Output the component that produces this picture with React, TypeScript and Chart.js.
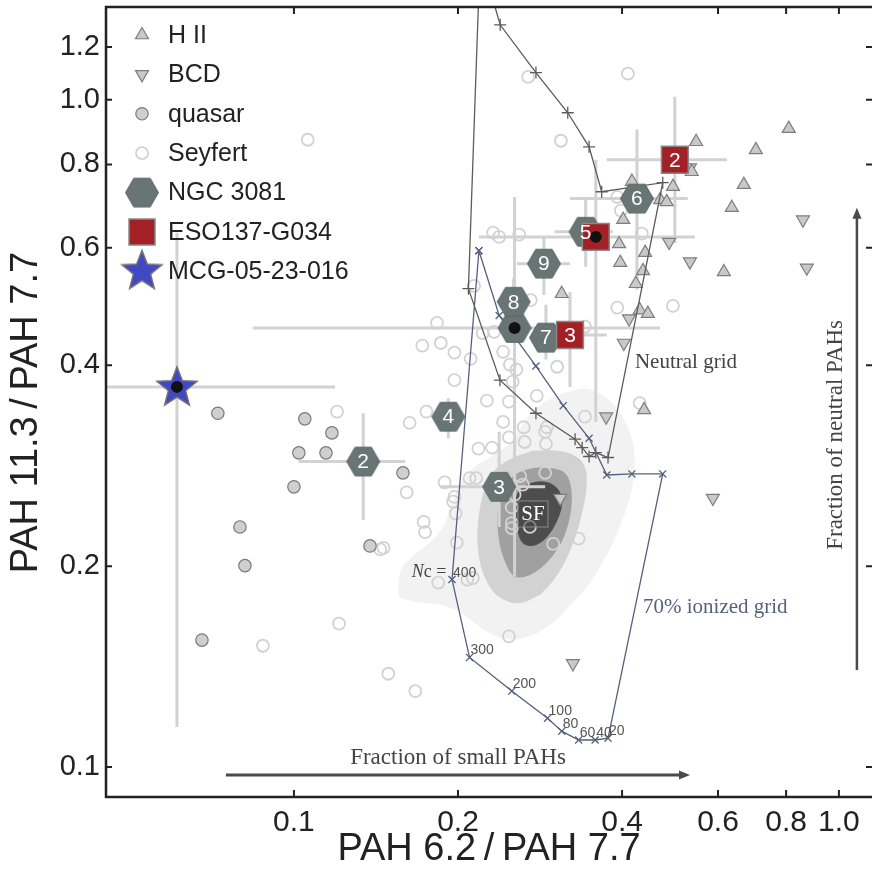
import React, { useEffect, useRef } from 'react';
import { Chart, registerables } from 'chart.js';

Chart.register(...registerables);

const FONT_SANS = "'Liberation Sans', Arial, Helvetica, sans-serif";
const FONT_SERIF = "'Liberation Serif', 'Times New Roman', serif";

// ---------- axes ----------
const xRange = [0.0452, 1.15];
const yRange = [0.0902, 1.377];
const xTickValues = [0.1, 0.2, 0.4, 0.6, 0.8, 1.0];
const xTickLabels = ['0.1', '0.2', '0.4', '0.6', '0.8', '1.0'];
const yTickValues = [0.1, 0.2, 0.4, 0.6, 0.8, 1.0, 1.2];
const yTickLabels = ['0.1', '0.2', '0.4', '0.6', '0.8', '1.0', '1.2'];
const xTitle = 'PAH 6.2\u2009/\u2009PAH 7.7';
const yTitle = 'PAH 11.3\u2009/\u2009PAH 7.7  ';

// ---------- comparison samples ----------
const hiiPoints = [
  [0.547, 0.865], [0.704, 0.841], [0.809, 0.905], [0.669, 0.746], [0.636, 0.689],
  [0.417, 0.754], [0.496, 0.741], [0.470, 0.708], [0.483, 0.703], [0.402, 0.661],
  [0.395, 0.608], [0.441, 0.590], [0.397, 0.570], [0.615, 0.552], [0.437, 0.554],
  [0.424, 0.530], [0.431, 0.484], [0.446, 0.478], [0.310, 0.512], [0.439, 0.343],
  [0.537, 0.780],
];
const bcdPoints = [
  [0.859, 0.661], [0.873, 0.560], [0.533, 0.572], [0.488, 0.612], [0.412, 0.470],
  [0.403, 0.432], [0.533, 0.791], [0.374, 0.335], [0.308, 0.253], [0.325, 0.143],
  [0.587, 0.253],
];
const quasarPoints = [
  [0.0725, 0.339], [0.1047, 0.3325], [0.1174, 0.3168], [0.1021, 0.2957], [0.1145, 0.2957],
  [0.1, 0.263], [0.0796, 0.229], [0.0813, 0.2004], [0.1379, 0.2145], [0.1585, 0.276],
  [0.0678, 0.155],
];
const seyfertPoints = [
  [0.106, 0.871], [0.41, 1.094], [0.269, 1.082], [0.309, 0.868], [0.392, 0.715],
  [0.398, 0.682], [0.232, 0.632], [0.238, 0.623], [0.259, 0.628], [0.435, 0.630],
  [0.214, 0.526], [0.272, 0.501], [0.392, 0.488], [0.496, 0.491], [0.183, 0.463],
  [0.233, 0.449], [0.222, 0.447], [0.342, 0.457], [0.172, 0.428], [0.186, 0.432],
  [0.197, 0.418], [0.211, 0.409], [0.242, 0.419], [0.249, 0.401], [0.256, 0.394],
  [0.252, 0.378], [0.304, 0.398], [0.197, 0.380], [0.226, 0.354], [0.248, 0.353],
  [0.279, 0.360], [0.175, 0.341], [0.163, 0.328], [0.242, 0.329], [0.264, 0.323],
  [0.291, 0.323], [0.342, 0.335], [0.248, 0.312], [0.289, 0.318], [0.431, 0.351],
  [0.218, 0.300], [0.231, 0.301], [0.265, 0.307], [0.290, 0.305], [0.275, 0.291],
  [0.280, 0.291], [0.314, 0.286], [0.289, 0.276], [0.260, 0.273], [0.210, 0.271],
  [0.216, 0.271], [0.189, 0.267], [0.263, 0.265], [0.254, 0.256], [0.197, 0.254],
  [0.196, 0.250], [0.198, 0.240], [0.251, 0.245], [0.226, 0.240], [0.224, 0.232],
  [0.251, 0.232], [0.251, 0.228], [0.271, 0.229], [0.173, 0.233], [0.174, 0.225],
  [0.199, 0.217], [0.333, 0.220], [0.299, 0.216], [0.161, 0.258], [0.146, 0.213],
  [0.241, 0.195], [0.279, 0.185], [0.184, 0.189], [0.208, 0.191], [0.213, 0.192],
  [0.248, 0.157], [0.149, 0.138], [0.167, 0.130], [0.121, 0.164], [0.0877, 0.152],
  [0.120, 0.341], [0.144, 0.212],
];

// ---------- targets ----------
const ngcPoints = [
  [0.254, 0.455], [0.134, 0.287], [0.238, 0.263], [0.192, 0.335], [0.343, 0.634],
  [0.426, 0.711], [0.290, 0.440], [0.253, 0.498], [0.2875, 0.568],
];
const ngcLabels = ['', '2', '3', '4', '5', '6', '7', '8', '9'];
const ngcXErr = [
  [0.0841, 0.4695], [0.102, 0.160], [0.1853, 0.289], [0.18, 0.205], [0.301, 0.385],
  [0.321, 0.528], [0.276, 0.305], [0.236, 0.270], [0.2566, 0.321],
];
const ngcYErr = [
  [0.193, 0.715], [0.2345, 0.339], [0.229, 0.318], [0.311, 0.357], [0.562, 0.708],
  [0.519, 0.902], [0.408, 0.493], [0.46, 0.54], [0.510, 0.621],
];

const esoPoints = [[0.500, 0.813], [0.358, 0.623], [0.321, 0.444]];
const esoLabels = ['2', '', '3'];
const esoXErr = [[0.375, 0.623], [0.2185, 0.544], [0.289, 0.375]];
const esoYErr = [[0.610, 1.01], [0.329, 0.813], [0.371, 0.515]];

const mcgPoints = [[0.061, 0.3713]];
const mcgXErr = [[0.03, 0.119]];
const mcgYErr = [[0.1148, 0.632]];

const nucleusPoints = [[0.254, 0.455], [0.358, 0.623], [0.061, 0.3713]];

// ---------- model grids ----------
const neutralGrid = [
  [0.229, 1.462], [0.239, 1.295], [0.278, 1.098], [0.318, 0.956], [0.348, 0.850],
  [0.367, 0.728], [0.475, 0.751], [0.377, 0.291], [0.358, 0.296], [0.348, 0.292],
  [0.338, 0.301], [0.328, 0.310], [0.278, 0.339], [0.2388, 0.380], [0.209, 0.521],
  [0.2185, 1.462],
];
const ionizedGrid = [
  [0.2185, 0.594], [0.238, 0.475], [0.278, 0.399], [0.312, 0.348], [0.348, 0.311],
  [0.375, 0.274], [0.417, 0.275], [0.475, 0.275], [0.377, 0.1105], [0.357, 0.1098],
  [0.333, 0.1098], [0.310, 0.1132], [0.292, 0.1184], [0.251, 0.130], [0.210, 0.146],
  [0.195, 0.191], [0.2185, 0.594],
];
const ionizedLabels = ['', '', '', '', '', '', '', '', '20', '40', '60', '80', '100', '200', '300', '400', ''];

// ---------- star-forming density contours ----------
const contourOuter = [
  [0.155, 0.182], [0.1565, 0.1994], [0.168, 0.2093], [0.183, 0.2212], [0.191, 0.2346],
  [0.199, 0.2602], [0.210, 0.2788], [0.229, 0.2916], [0.252, 0.306], [0.263, 0.328],
  [0.279, 0.3465], [0.299, 0.3587], [0.325, 0.3675], [0.345, 0.370], [0.364, 0.3637],
  [0.385, 0.3513], [0.405, 0.3313], [0.422, 0.304], [0.422, 0.2693], [0.405, 0.2387],
  [0.380, 0.2115], [0.349, 0.1875], [0.324, 0.1762], [0.308, 0.168], [0.291, 0.1616],
  [0.271, 0.1566], [0.252, 0.155], [0.239, 0.1561], [0.222, 0.1605], [0.208, 0.168],
  [0.191, 0.175], [0.170, 0.1762], [0.1565, 0.1792],
];
const contourMid = [
  [0.2194, 0.2454], [0.2167, 0.2266], [0.2176, 0.2078], [0.2223, 0.194], [0.2318, 0.1823],
  [0.2459, 0.1767], [0.2598, 0.1756], [0.2768, 0.1792], [0.2924, 0.1855], [0.3116, 0.1994],
  [0.3278, 0.2189], [0.3376, 0.2387], [0.3448, 0.2602], [0.3448, 0.2788], [0.3348, 0.2906],
  [0.3142, 0.2977], [0.2887, 0.2987], [0.2676, 0.2967], [0.2459, 0.2886], [0.2308, 0.2769],
  [0.2232, 0.262],
];
const contourInner = [
  [0.2368, 0.2454], [0.2358, 0.2305], [0.2388, 0.2129], [0.2449, 0.2008], [0.2522, 0.1927],
  [0.2631, 0.192], [0.2791, 0.196], [0.2987, 0.2064], [0.3142, 0.2212], [0.3236, 0.2428],
  [0.3236, 0.262], [0.3169, 0.2759], [0.3012, 0.2807], [0.2768, 0.2817], [0.2544, 0.2759],
  [0.2429, 0.2629],
];
const contourCore = [
  [0.2566, 0.2584], [0.2653, 0.2647], [0.2791, 0.2684], [0.2949, 0.2675], [0.3077, 0.2602],
  [0.3116, 0.2488], [0.3077, 0.2387], [0.2987, 0.2266], [0.2863, 0.2174], [0.2733, 0.2137],
  [0.262, 0.2159], [0.2566, 0.225], [0.2544, 0.2387], [0.2544, 0.2496],
];
const contourLevels = [contourOuter, contourMid, contourInner, contourCore];
const contourColors = ['#f2f2f2', '#d2d2d2', '#a0a0a0', '#4d4d4d'];

// ---------- annotations (data coordinates) ----------
const neutralLabelAt = [0.4224, 0.3964];
const ionizedLabelAt = [0.437, 0.170];
const smallArrow = [[0.075, 0.0973], [0.533, 0.0973]];
const smallTextAt = [0.2, 0.101];
const neutralArrow = [[1.079, 0.1398], [1.079, 0.689]];
const neutralTextAt = [0.987, 0.3146];
const sfAt = [0.2745, 0.2395];

const legendLabels = ['H II', 'BCD', 'quasar', 'Seyfert', 'NGC 3081', 'ESO137-G034', 'MCG-05-23-016'];

// ---------- colours ----------
const HEX_FILL = '#687574';
const HEX_EDGE = '#5a6665';
const ESO_FILL = '#a32126';
const STAR_FILL = '#4048c4';
const TRI_FILL = '#c9c9c9';
const TRI_EDGE = '#7e7e7e';
const ERR_COLOR = '#d2d2d2';

const toXY = (arr: number[][]) => arr.map((p) => ({ x: p[0], y: p[1] }));

function hexPath(ctx: CanvasRenderingContext2D, cx: number, cy: number, r: number) {
  ctx.beginPath();
  for (let k = 0; k < 6; k++) {
    const a = (Math.PI / 3) * k;
    const px = cx + r * Math.cos(a);
    const py = cy + r * Math.sin(a);
    if (k === 0) ctx.moveTo(px, py);
    else ctx.lineTo(px, py);
  }
  ctx.closePath();
}

function starPath(ctx: CanvasRenderingContext2D, cx: number, cy: number, R: number, r: number) {
  ctx.beginPath();
  for (let k = 0; k < 10; k++) {
    const a = -Math.PI / 2 + (k * Math.PI) / 5;
    const rad = k % 2 === 0 ? R : r;
    const px = cx + rad * Math.cos(a);
    const py = cy + rad * Math.sin(a);
    if (k === 0) ctx.moveTo(px, py);
    else ctx.lineTo(px, py);
  }
  ctx.closePath();
}

function makeImg(w: number, h: number, draw: (c: CanvasRenderingContext2D) => void) {
  const c = document.createElement('canvas');
  c.width = w;
  c.height = h;
  const g = c.getContext('2d');
  if (g) draw(g);
  return c;
}

function trianglePath(ctx: CanvasRenderingContext2D, x: number, y: number, r: number, down: boolean) {
  ctx.beginPath();
  for (let k = 0; k < 3; k++) {
    const a = (down ? Math.PI : 0) + (k * 2 * Math.PI) / 3;
    const px = x + Math.sin(a) * r;
    const py = y - Math.cos(a) * r;
    if (k === 0) ctx.moveTo(px, py);
    else ctx.lineTo(px, py);
  }
  ctx.closePath();
}

function arrow(ctx: CanvasRenderingContext2D, x0: number, y0: number, x1: number, y1: number) {
  const ang = Math.atan2(y1 - y0, x1 - x0);
  const head = 11;
  const hw = 4.5;
  ctx.beginPath();
  ctx.moveTo(x0, y0);
  ctx.lineTo(x1 - Math.cos(ang) * head * 0.8, y1 - Math.sin(ang) * head * 0.8);
  ctx.stroke();
  ctx.beginPath();
  ctx.moveTo(x1, y1);
  ctx.lineTo(x1 - Math.cos(ang) * head - Math.sin(ang) * hw, y1 - Math.sin(ang) * head + Math.cos(ang) * hw);
  ctx.lineTo(x1 - Math.cos(ang) * head + Math.sin(ang) * hw, y1 - Math.sin(ang) * head - Math.cos(ang) * hw);
  ctx.closePath();
  ctx.fill();
}

const zeroPadding = (s: any) => {
  s.paddingTop = 0;
  s.paddingBottom = 0;
  s.paddingLeft = 0;
  s.paddingRight = 0;
};

export default function App() {
  const ref = useRef<HTMLCanvasElement | null>(null);

  useEffect(() => {
    const canvas = ref.current;
    if (!canvas) return;

    const hexImg = makeImg(36, 32, (g) => {
      hexPath(g, 18, 16, 16.5);
      g.fillStyle = HEX_FILL;
      g.fill();
      g.strokeStyle = HEX_EDGE;
      g.lineWidth = 1;
      g.stroke();
    });
    const starImg = makeImg(48, 46, (g) => {
      starPath(g, 24, 24, 21, 9);
      g.fillStyle = STAR_FILL;
      g.fill();
      g.strokeStyle = '#707070';
      g.lineWidth = 1.5;
      g.stroke();
    });

    const overlay = {
      id: 'overlay',
      beforeDatasetsDraw(chart: any) {
        const { ctx, chartArea: a } = chart;
        const sx = chart.scales.x;
        const sy = chart.scales.y;
        const P = (p: number[]) => [sx.getPixelForValue(p[0]), sy.getPixelForValue(p[1])];
        ctx.save();
        ctx.beginPath();
        ctx.rect(a.left, a.top, a.right - a.left, a.bottom - a.top);
        ctx.clip();
        contourLevels.forEach((lvl, i) => {
          const pts = lvl.map(P);
          const n = pts.length;
          const mid = (p: number[], q: number[]) => [(p[0] + q[0]) / 2, (p[1] + q[1]) / 2];
          const m0 = mid(pts[n - 1], pts[0]);
          ctx.beginPath();
          ctx.moveTo(m0[0], m0[1]);
          for (let k = 0; k < n; k++) {
            const p = pts[k];
            const mm = mid(p, pts[(k + 1) % n]);
            ctx.quadraticCurveTo(p[0], p[1], mm[0], mm[1]);
          }
          ctx.closePath();
          ctx.fillStyle = contourColors[i];
          ctx.fill();
        });
        ctx.strokeStyle = ERR_COLOR;
        ctx.lineWidth = 3;
        const bars = (pts: number[][], xe: number[][], ye: number[][]) => {
          pts.forEach((p, k) => {
            const [px, py] = P(p);
            const x0 = sx.getPixelForValue(xe[k][0]);
            const x1 = sx.getPixelForValue(xe[k][1]);
            const y0 = sy.getPixelForValue(ye[k][0]);
            const y1 = sy.getPixelForValue(ye[k][1]);
            ctx.beginPath();
            ctx.moveTo(x0, py);
            ctx.lineTo(x1, py);
            ctx.moveTo(px, y0);
            ctx.lineTo(px, y1);
            ctx.stroke();
          });
        };
        bars(ngcPoints, ngcXErr, ngcYErr);
        bars(esoPoints, esoXErr, esoYErr);
        bars(mcgPoints, mcgXErr, mcgYErr);
        ctx.restore();
      },
      afterDatasetsDraw(chart: any) {
        const { ctx, chartArea: a } = chart;
        const sx = chart.scales.x;
        const sy = chart.scales.y;
        const P = (p: number[]) => [sx.getPixelForValue(p[0]), sy.getPixelForValue(p[1])];
        ctx.save();
        ctx.beginPath();
        ctx.rect(a.left, a.top, a.right - a.left, a.bottom - a.top);
        ctx.clip();

        // SF box
        const [sfx, sfy] = P(sfAt);
        ctx.fillStyle = 'rgba(70,70,70,0.55)';
        ctx.fillRect(sfx - 15, sfy - 13, 30, 26);
        ctx.strokeStyle = '#8a8a8a';
        ctx.lineWidth = 1;
        ctx.strokeRect(sfx - 15, sfy - 13, 30, 26);
        ctx.fillStyle = '#ffffff';
        ctx.font = `21px ${FONT_SERIF}`;
        ctx.textAlign = 'center';
        ctx.textBaseline = 'middle';
        ctx.fillText('SF', sfx, sfy + 1);

        // ionized grid labels
        ctx.font = `14px ${FONT_SANS}`;
        ctx.fillStyle = '#555555';
        ctx.textAlign = 'left';
        ctx.textBaseline = 'alphabetic';
        ionizedGrid.forEach((p, k) => {
          const t = ionizedLabels[k];
          if (!t) return;
          const [px, py] = P(p);
          ctx.fillText(t, px + 1, py - 3);
          if (t === '400') {
            ctx.font = `18px ${FONT_SERIF}`;
            ctx.textAlign = 'right';
            ctx.fillStyle = '#444444';
            const rest = 'c = ';
            ctx.fillText(rest, px - 1, py - 3);
            const w = ctx.measureText(rest).width;
            ctx.font = `italic 18px ${FONT_SERIF}`;
            ctx.fillText('N', px - 1 - w, py - 3);
            ctx.font = `14px ${FONT_SANS}`;
            ctx.textAlign = 'left';
            ctx.fillStyle = '#555555';
          }
        });

        // grid names
        ctx.font = `21px ${FONT_SERIF}`;
        ctx.textAlign = 'left';
        ctx.textBaseline = 'alphabetic';
        ctx.fillStyle = '#444444';
        let q = P(neutralLabelAt);
        ctx.fillText('Neutral grid', q[0], q[1]);
        ctx.fillStyle = '#56607e';
        q = P(ionizedLabelAt);
        ctx.fillText('70% ionized grid', q[0], q[1]);

        // arrows + captions
        ctx.strokeStyle = '#4a4a4a';
        ctx.fillStyle = '#4a4a4a';
        ctx.lineWidth = 3;
        let p0 = P(smallArrow[0]);
        let p1 = P(smallArrow[1]);
        arrow(ctx, p0[0], p0[1], p1[0], p1[1]);
        ctx.lineWidth = 2.5;
        p0 = P(neutralArrow[0]);
        p1 = P(neutralArrow[1]);
        arrow(ctx, p0[0], p0[1], p1[0], p1[1]);
        ctx.fillStyle = '#444444';
        ctx.font = `23px ${FONT_SERIF}`;
        ctx.textAlign = 'center';
        q = P(smallTextAt);
        ctx.fillText('Fraction of small PAHs', q[0], q[1]);
        q = P(neutralTextAt);
        ctx.save();
        ctx.translate(q[0], q[1]);
        ctx.rotate(-Math.PI / 2);
        ctx.textBaseline = 'middle';
        ctx.fillText('Fraction of neutral PAHs', 0, 0);
        ctx.restore();

        // numbers on markers
        ctx.fillStyle = '#ffffff';
        ctx.font = `21px ${FONT_SANS}`;
        ctx.textAlign = 'center';
        ctx.textBaseline = 'middle';
        ngcPoints.forEach((p, k) => {
          if (!ngcLabels[k]) return;
          const [px, py] = P(p);
          ctx.fillText(ngcLabels[k], px, py + 1);
        });
        esoPoints.forEach((p, k) => {
          if (!esoLabels[k]) return;
          const [px, py] = P(p);
          ctx.fillText(esoLabels[k], px, py + 1);
        });
        ctx.restore();

        // legend
        ctx.save();
        legendLabels.forEach((label, i) => {
          const y = 35 + i * 39.4;
          const x = 142;
          if (i === 0 || i === 1) {
            trianglePath(ctx, x, y, 7.5, i === 1);
            ctx.fillStyle = TRI_FILL;
            ctx.fill();
            ctx.strokeStyle = TRI_EDGE;
            ctx.lineWidth = 1.2;
            ctx.stroke();
          } else if (i === 2) {
            ctx.beginPath();
            ctx.arc(x, y, 6.2, 0, Math.PI * 2);
            ctx.fillStyle = '#cfcfcf';
            ctx.fill();
            ctx.strokeStyle = '#7a7a7a';
            ctx.lineWidth = 1.2;
            ctx.stroke();
          } else if (i === 3) {
            ctx.beginPath();
            ctx.arc(x, y, 6, 0, Math.PI * 2);
            ctx.strokeStyle = '#d2d2d2';
            ctx.lineWidth = 1.8;
            ctx.stroke();
          } else if (i === 4) {
            ctx.drawImage(hexImg, x - 18, y - 16);
          } else if (i === 5) {
            ctx.fillStyle = ESO_FILL;
            ctx.fillRect(x - 13, y - 13, 26, 26);
            ctx.strokeStyle = '#888888';
            ctx.lineWidth = 1.5;
            ctx.strokeRect(x - 13, y - 13, 26, 26);
          } else {
            ctx.drawImage(starImg, x - 24, y - 24);
          }
          ctx.fillStyle = '#222222';
          ctx.font = `25px ${FONT_SANS}`;
          ctx.textAlign = 'left';
          ctx.textBaseline = 'middle';
          ctx.fillText(label, 168, y + 1);
        });
        ctx.restore();
      },
      afterDraw(chart: any) {
        const { ctx, chartArea: a } = chart;
        const sx = chart.scales.x;
        const sy = chart.scales.y;
        ctx.save();
        ctx.strokeStyle = '#222222';
        ctx.lineWidth = 2.5;
        ctx.beginPath();
        ctx.moveTo(a.right + 2, a.top);
        ctx.lineTo(a.left, a.top);
        ctx.lineTo(a.left, a.bottom);
        ctx.lineTo(a.right + 2, a.bottom);
        ctx.stroke();
        ctx.lineWidth = 2;
        ctx.beginPath();
        xTickValues.forEach((v) => {
          const px = sx.getPixelForValue(v);
          ctx.moveTo(px, a.bottom);
          ctx.lineTo(px, a.bottom - 7);
          ctx.moveTo(px, a.top);
          ctx.lineTo(px, a.top + 7);
        });
        yTickValues.forEach((v) => {
          const py = sy.getPixelForValue(v);
          ctx.moveTo(a.left, py);
          ctx.lineTo(a.left + 6, py);
          ctx.moveTo(a.right, py);
          ctx.lineTo(a.right - 6, py);
        });
        ctx.stroke();
        ctx.restore();
      },
    };

    const neutralRadius = neutralGrid.map((p) => (p[1] > yRange[1] ? 0 : 6));

    const chart = new Chart(canvas, {
      type: 'scatter',
      data: {
        datasets: [
          {
            label: 'nucleus',
            data: toXY(nucleusPoints),
            pointStyle: 'circle',
            pointRadius: 6,
            backgroundColor: '#111111',
            borderWidth: 0,
            order: 0,
          },
          {
            label: 'ESO137-G034',
            data: toXY(esoPoints),
            pointStyle: 'rect',
            pointRadius: 19,
            backgroundColor: ESO_FILL,
            borderColor: '#888888',
            borderWidth: 1.5,
            order: 1,
          },
          {
            label: 'NGC 3081',
            data: toXY(ngcPoints),
            pointStyle: hexImg,
            pointRadius: 17,
            order: 2,
          },
          {
            label: 'MCG-05-23-016',
            data: toXY(mcgPoints),
            pointStyle: starImg,
            pointRadius: 21,
            order: 3,
          },
          {
            label: 'Neutral grid',
            data: toXY(neutralGrid),
            showLine: true,
            borderColor: '#5c5c5c',
            borderWidth: 1.3,
            pointStyle: 'cross',
            pointRadius: neutralRadius,
            pointBorderColor: '#5c5c5c',
            pointBorderWidth: 1.3,
            order: 4,
          },
          {
            label: '70% ionized grid',
            data: toXY(ionizedGrid),
            showLine: true,
            borderColor: '#56607e',
            borderWidth: 1.3,
            pointStyle: 'crossRot',
            pointRadius: 5,
            pointBorderColor: '#56607e',
            pointBorderWidth: 1.3,
            order: 5,
          },
          {
            label: 'H II',
            data: toXY(hiiPoints),
            pointStyle: 'triangle',
            pointRadius: 7.5,
            backgroundColor: TRI_FILL,
            borderColor: TRI_EDGE,
            borderWidth: 1.2,
            order: 6,
          },
          {
            label: 'BCD',
            data: toXY(bcdPoints),
            pointStyle: 'triangle',
            rotation: 180,
            pointRadius: 7.5,
            backgroundColor: TRI_FILL,
            borderColor: TRI_EDGE,
            borderWidth: 1.2,
            order: 7,
          },
          {
            label: 'quasar',
            data: toXY(quasarPoints),
            pointStyle: 'circle',
            pointRadius: 6.2,
            backgroundColor: '#cfcfcf',
            borderColor: '#7a7a7a',
            borderWidth: 1.2,
            order: 8,
          },
          {
            label: 'Seyfert',
            data: toXY(seyfertPoints),
            pointStyle: 'circle',
            pointRadius: 6,
            backgroundColor: 'rgba(0,0,0,0)',
            borderColor: '#d2d2d2',
            borderWidth: 1.8,
            order: 9,
          },
        ],
      },
      options: {
        animation: false,
        responsive: false,
        maintainAspectRatio: false,
        devicePixelRatio: 1,
        layout: { autoPadding: false, padding: { top: 7, right: 0, left: 0, bottom: 0 } },
        plugins: { legend: { display: false }, tooltip: { enabled: false } },
        scales: {
          x: {
            type: 'logarithmic',
            min: xRange[0],
            max: xRange[1],
            grid: { display: false, drawTicks: false },
            border: { display: false },
            afterBuildTicks: (s: any) => {
              s.ticks = xTickValues.map((v) => ({ value: v }));
            },
            afterFit: (s: any) => {
              s.height = 72;
              zeroPadding(s);
            },
            ticks: {
              autoSkip: false,
              maxRotation: 0,
              padding: 8,
              color: '#222222',
              font: { family: FONT_SANS, size: 30 },
              callback: (_v: any, i: number) => xTickLabels[i],
            },
            title: {
              display: true,
              text: xTitle,
              color: '#222222',
              font: { family: FONT_SANS, size: 38, lineHeight: 1 },
              padding: { top: 0, bottom: 0 },
            },
          },
          y: {
            type: 'logarithmic',
            min: yRange[0],
            max: yRange[1],
            grid: { display: false, drawTicks: false },
            border: { display: false },
            afterBuildTicks: (s: any) => {
              s.ticks = yTickValues.map((v) => ({ value: v }));
            },
            afterFit: (s: any) => {
              s.width = 106;
              zeroPadding(s);
            },
            ticks: {
              autoSkip: false,
              padding: 6,
              color: '#222222',
              font: { family: FONT_SANS, size: 29 },
              callback: (_v: any, i: number) => yTickLabels[i],
            },
            title: {
              display: true,
              text: yTitle,
              color: '#222222',
              font: { family: FONT_SANS, size: 38, lineHeight: 1 },
              padding: { top: 8, bottom: 0 },
            },
          },
        },
      },
      plugins: [overlay],
    } as any);

    return () => chart.destroy();
  }, []);

  return (
    <div style={{ position: 'absolute', left: 0, top: 0, width: 872, height: 869, background: '#ffffff' }}>
      <canvas ref={ref} width={872} height={869} style={{ display: 'block' }} />
    </div>
  );
}
